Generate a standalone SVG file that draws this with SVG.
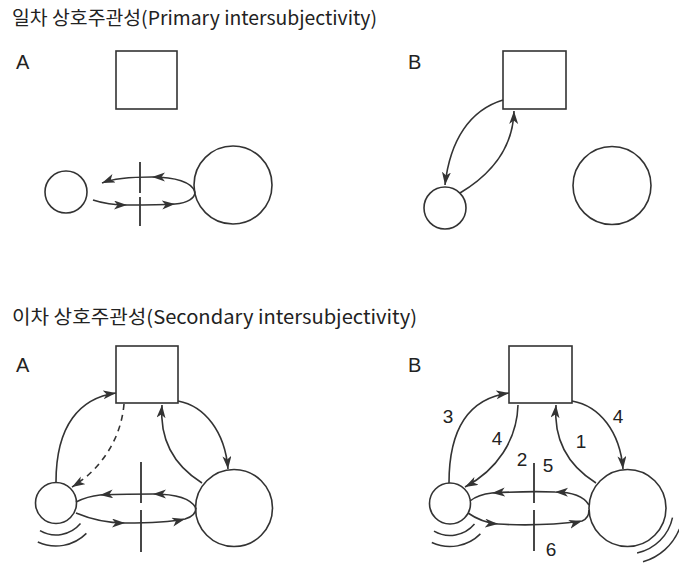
<svg xmlns="http://www.w3.org/2000/svg" width="679" height="565" viewBox="0 0 679 565">
  <style>
    .title { font-family: "Noto Sans CJK KR", "Noto Sans", sans-serif; font-size: 19px; fill: #222; }
    .panel { font-family: "Liberation Sans", Arial, sans-serif; font-size: 20px; fill: #222; }
    .num { font-family: "Liberation Sans", Arial, sans-serif; font-size: 19px; fill: #222; text-anchor: middle; }
    .shape { fill: #fff; stroke: #333; stroke-width: 1.6; }
    .line { fill: none; stroke: #333; stroke-width: 1.6; }
    .dash { fill: none; stroke: #333; stroke-width: 1.6; stroke-dasharray: 6 5; }
    .tick { fill: none; stroke: #333; stroke-width: 1.8; }
    .wave { fill: none; stroke: #333; stroke-width: 1.5; }
  </style>
  <defs>
    <marker id="arrow" markerUnits="userSpaceOnUse" markerWidth="14" markerHeight="10" refX="13" refY="4.5" orient="auto">
      <path d="M0,0 L13,4.5 L0,9 L3.5,4.5 Z" fill="#333"/>
    </marker>
  </defs>

  <rect width="679" height="565" fill="#fff"/>

  <!-- headings -->
  <text class="title" x="12" y="25" textLength="365" lengthAdjust="spacingAndGlyphs">일차 상호주관성(Primary intersubjectivity)</text>
  <text class="title" x="12" y="324" textLength="405" lengthAdjust="spacingAndGlyphs">이차 상호주관성(Secondary intersubjectivity)</text>

  <!-- panel letters -->
  <text class="panel" x="16" y="69">A</text>
  <text class="panel" x="408" y="69">B</text>
  <text class="panel" x="16" y="372">A</text>
  <text class="panel" x="408" y="372">B</text>

  <!-- primary A -->
  <g id="p1a-object"><rect class="shape" x="116" y="51" width="61" height="58"/></g>
  <g id="p1a-infant"><circle class="shape" cx="66" cy="192" r="21"/></g>
  <g id="p1a-adult"><circle class="shape" cx="233" cy="185" r="39"/></g>

  <!-- primary B -->
  <g id="p1b-object"><rect class="shape" x="503" y="51" width="63" height="58"/></g>
  <g id="p1b-infant"><circle class="shape" cx="445" cy="208" r="21"/></g>
  <g id="p1b-adult"><circle class="shape" cx="612" cy="185.5" r="39"/></g>

  <!-- secondary A -->
  <g id="p2a-object"><rect class="shape" x="116" y="346" width="62" height="57"/></g>
  <g id="p2a-infant">
    <circle class="shape" cx="56" cy="503" r="20.5"/>
    <path class="wave" d="M40,530.7 A32,32 0 0 0 80.5,523.6"/>
    <path class="wave" d="M37.8,542 A43,43 0 0 0 86.4,533.4"/>
  </g>
  <g id="p2a-adult"><circle class="shape" cx="234" cy="508" r="38.5"/></g>

  <!-- secondary B -->
  <g id="p2b-object"><rect class="shape" x="509" y="346" width="63" height="57"/></g>
  <g id="p2b-infant">
    <circle class="shape" cx="450" cy="503.5" r="20.5"/>
    <path class="wave" d="M434,531.2 A32,32 0 0 0 474.5,524.1"/>
    <path class="wave" d="M431.8,542.5 A43,43 0 0 0 480.4,533.9"/>
  </g>
  <g id="p2b-adult">
    <circle class="shape" cx="627.5" cy="508" r="38.5"/>
    <path class="wave" d="M637.1,553 A46,46 0 0 0 672.5,517.6"/>
    <path class="wave" d="M643,561.8 A56,56 0 0 0 679.4,529"/>
  </g>

  <g id="connectors">
    <!-- primary A: face-to-face exchange -->
    <path class="line" marker-mid="url(#arrow)" marker-end="url(#arrow)" d="M195,192 C192,182 175,177 152,177 C130,177 112,179 102,183"/>
    <path class="line" marker-mid="url(#arrow)" d="M93,200 C105,204 115,205 127,205 C150,205 160,205 175,204 C188,203 195,198 195,192"/>
    <path class="tick" d="M140,162 V193 M140,197 V226"/>

    <!-- primary B: infant and object -->
    <path class="line" marker-end="url(#arrow)" d="M503,100 C470,110 450,140 445,185"/>
    <path class="line" marker-end="url(#arrow)" d="M460,193 C490,175 513,150 514,111"/>

    <!-- secondary A -->
    <path class="line" marker-end="url(#arrow)" d="M56,482 C56,425 80,398 116,393"/>
    <path class="dash" marker-end="url(#arrow)" d="M124,404 C121,440 100,470 72,487"/>
    <path class="line" marker-end="url(#arrow)" d="M178,401 C205,406 225,432 228,469"/>
    <path class="line" marker-end="url(#arrow)" d="M202,483 C178,468 159,445 162,405"/>
    <path class="line" marker-mid="url(#arrow)" d="M196,508 C190,497 170,494 153,494 C130,494 115,494 100,495 C90,496 82,499 76,502"/>
    <path class="line" marker-mid="url(#arrow)" d="M76,513 C95,521 110,523 125,523 C150,523 170,522 185,519 C192,517 196,513 196,508"/>
    <path class="tick" d="M141,462 V503 M141,510 V552"/>

    <!-- secondary B -->
    <path class="line" marker-end="url(#arrow)" d="M449,483 C449,425 472,398 509,393"/>
    <path class="line" marker-end="url(#arrow)" d="M518,405 C517,440 497,470 465,487"/>
    <path class="line" marker-end="url(#arrow)" d="M596,483 C572,468 553,445 556,405"/>
    <path class="line" marker-end="url(#arrow)" d="M572,401 C600,406 620,432 623,469"/>
    <path class="line" marker-mid="url(#arrow)" d="M589,505 C583,495 570,492 555,492 C530,491 510,492 492,493 C482,494 475,497 470,501"/>
    <path class="line" marker-mid="url(#arrow)" d="M468,513 C478,520 486,523 498,524 C530,526 560,524 582,521 C587,519 589,515 589,510"/>
    <path class="tick" d="M534,463 V503 M534,510 V551"/>
  </g>

  <!-- step numbers -->
  <text class="num" x="448" y="423">3</text>
  <text class="num" x="497" y="445">4</text>
  <text class="num" x="522" y="466">2</text>
  <text class="num" x="548" y="472">5</text>
  <text class="num" x="551" y="556">6</text>
  <text class="num" x="581" y="448">1</text>
  <text class="num" x="618" y="423">4</text>
</svg>
